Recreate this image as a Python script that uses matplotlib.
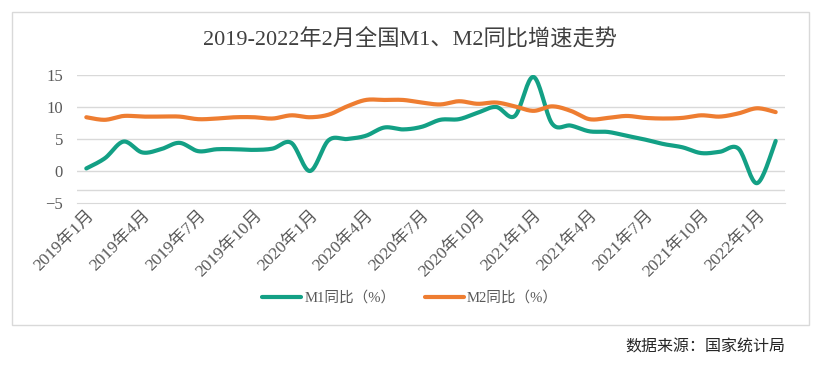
import numpy as np
import matplotlib
matplotlib.use('Agg')
import matplotlib.pyplot as plt
from matplotlib.patches import Rectangle

# 月份
months = [f"{y}年{m}月" for y in (2019, 2020, 2021) for m in range(1, 13)] + ["2022年1月", "2022年2月"]

# M1 同比 (%)
m1 = [0.4, 2.0, 4.6, 2.9, 3.4, 4.4, 3.1, 3.4, 3.4, 3.3, 3.5, 4.4,
      0.0, 4.8, 5.0, 5.5, 6.8, 6.5, 6.9, 8.0, 8.1, 9.1, 10.0, 8.6,
      14.7, 7.4, 7.1, 6.2, 6.1, 5.5, 4.9, 4.2, 3.7, 2.8, 3.0, 3.5,
      -1.9, 4.7]
# M2 同比 (%)
m2 = [8.4, 8.0, 8.6, 8.5, 8.5, 8.5, 8.1, 8.2, 8.4, 8.4, 8.2, 8.7,
      8.4, 8.8, 10.1, 11.1, 11.1, 11.1, 10.7, 10.4, 10.9, 10.5, 10.7, 10.1,
      9.4, 10.1, 9.4, 8.1, 8.3, 8.6, 8.3, 8.2, 8.3, 8.7, 8.5, 9.0,
      9.8, 9.2]

yticks = [-5, 0, 5, 10, 15]

plt.rcParams['font.family'] = ['Liberation Serif', 'Noto Sans CJK SC', 'DejaVu Sans']


def smooth(y, n=20):
    # 平滑曲线（Catmull-Rom 样式的贝塞尔段），只用于画线
    y = np.asarray(y, float)
    x = np.arange(len(y), dtype=float)
    px = np.concatenate([[x[0]], x, [x[-1]]])
    py = np.concatenate([[y[0]], y, [y[-1]]])
    xs, ys = [], []
    t = np.linspace(0, 1, n, endpoint=False)[:, None]
    for i in range(1, len(px) - 2):
        p0 = np.array([px[i - 1], py[i - 1]])
        p1 = np.array([px[i], py[i]])
        p2 = np.array([px[i + 1], py[i + 1]])
        p3 = np.array([px[i + 2], py[i + 2]])
        c1 = p1 + (p2 - p0) / 6
        c2 = p2 - (p3 - p1) / 6
        pts = ((1 - t) ** 3) * p1 + 3 * ((1 - t) ** 2) * t * c1 + 3 * (1 - t) * t ** 2 * c2 + t ** 3 * p2
        xs.append(pts[:, 0])
        ys.append(pts[:, 1])
    xs.append([x[-1]])
    ys.append([y[-1]])
    return np.concatenate(xs), np.concatenate(ys)


W, H = 820, 379
fig = plt.figure(figsize=(W / 100, H / 100), dpi=100)
ax = fig.add_axes([77 / W, 1 - 203 / H, (785 - 77) / W, (203 - 75) / H])

x1, y1 = smooth(m1)
x2, y2 = smooth(m2)
ax.plot(x1, y1, color='#13a085', lw=3, solid_capstyle='round', label='M1同比（%）', zorder=3)
ax.plot(x2, y2, color='#ee7d31', lw=3, solid_capstyle='round', label='M2同比（%）', zorder=3)

ax.set_xlim(-0.5, len(months) - 0.5)
ax.set_ylim(-5, 15)
ax.set_yticks(yticks)
ax.set_yticklabels(['\u22125' if v < 0 else str(v) for v in yticks])
for v in [0, 5, 10, 15, -3]:
    ax.axhline(v, color='#d9d9d9', lw=1, zorder=1)
for s in ['top', 'right', 'left']:
    ax.spines[s].set_visible(False)
ax.spines['bottom'].set_color('#d9d9d9')
ax.tick_params(axis='both', length=0, colors='#595959')
ax.tick_params(axis='y', labelsize=12, pad=10)

pos = list(range(0, len(months), 3))
ax.set_xticks(pos)
ax.set_xticklabels([months[i] for i in pos], rotation=45, ha='right',
                   rotation_mode='anchor', fontsize=12.5)
ax.tick_params(axis='x', pad=3)

fig.text(0.5, 1 - 40 / H, '2019-2022年2月全国M1、M2同比增速走势', ha='center', va='center',
         fontsize=16, color='#404040')

fig.legend(loc='center', bbox_to_anchor=(410 / W, 1 - 298 / H), ncol=2, frameon=False,
           fontsize=10.5, handlelength=2.7, columnspacing=2.0, handletextpad=0.2,
           labelcolor='#595959')

fig.text(785 / W, 1 - 348 / H, '数据来源：国家统计局', ha='right', va='center',
         fontsize=11.5, color='#262626')

fig.patches.append(Rectangle((12 / W, 1 - 325 / H), (809 - 12) / W, (325 - 12) / H,
                             transform=fig.transFigure, fill=False, edgecolor='#d9d9d9', lw=1))

fig.savefig('out.png', dpi=100)
